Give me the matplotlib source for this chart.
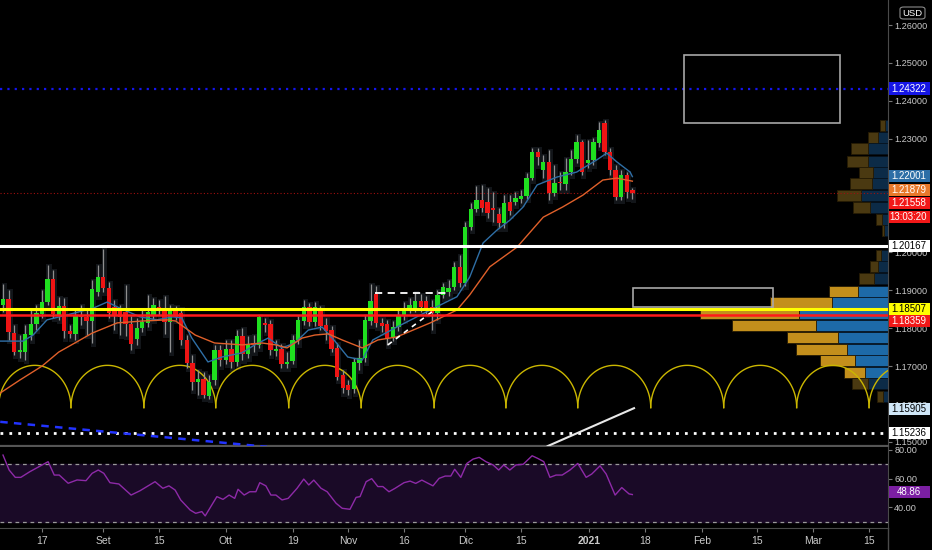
import numpy as np
import matplotlib
matplotlib.use("Agg")
import matplotlib.pyplot as plt
from matplotlib.patches import Rectangle, FancyBboxPatch
from matplotlib.lines import Line2D
from matplotlib import transforms
from matplotlib.ticker import FormatStrFormatter

plt.rcParams['font.family'] = ['Liberation Sans', 'DejaVu Sans']

# ---------------- data ----------------
first_index = -7
opens = [1.1861, 1.1877, 1.1787, 1.1737, 1.1737, 1.1782, 1.1811,
         1.1838, 1.1869, 1.1930, 1.1835, 1.1859, 1.1793, 1.1785, 1.1835, 1.1830, 1.1819,
         1.1896, 1.1935, 1.1906, 1.1856, 1.1845, 1.1843, 1.1811, 1.1772, 1.1801, 1.1814,
         1.1832, 1.1856, 1.1848, 1.1816, 1.1845, 1.1840, 1.1769, 1.1708, 1.1658, 1.1666,
         1.1621, 1.1663, 1.1743, 1.1716, 1.1745, 1.1711, 1.1780, 1.1732, 1.1761, 1.1756,
         1.1814, 1.1811, 1.1740, 1.1745, 1.1706, 1.1714, 1.1769, 1.1819, 1.1856, 1.1816,
         1.1848, 1.1809, 1.1795, 1.1748, 1.1677, 1.1650, 1.1640, 1.1708, 1.1721, 1.1819,
         1.1890, 1.1814, 1.1811, 1.1777, 1.1803, 1.1835, 1.1848, 1.1853, 1.1872, 1.1872,
         1.1856, 1.1840, 1.1888, 1.1896, 1.1909, 1.1962, 1.1919, 1.2067, 1.2115, 1.2138,
         1.2133, 1.2117, 1.2101, 1.2078, 1.2133, 1.2133, 1.2141, 1.2149, 1.2196, 1.2265,
         1.2218, 1.2239, 1.2157, 1.2186, 1.2180, 1.2212, 1.2247, 1.2291, 1.2236, 1.2244,
         1.2289, 1.2342, 1.2265, 1.2218, 1.2146, 1.2204, 1.2165]
highs = [1.1917, 1.1901, 1.1809, 1.1782, 1.1809, 1.1848, 1.1861,
         1.1901, 1.1967, 1.1954, 1.1882, 1.1880, 1.1809, 1.1848, 1.1861, 1.1848, 1.1927,
         1.1967, 1.2009, 1.1922, 1.1875, 1.1861, 1.1914, 1.1832, 1.1827, 1.1848, 1.1888,
         1.1880, 1.1875, 1.1885, 1.1861, 1.1859, 1.1853, 1.1782, 1.1729, 1.1690, 1.1685,
         1.1677, 1.1756, 1.1756, 1.1769, 1.1769, 1.1795, 1.1801, 1.1780, 1.1782, 1.1835,
         1.1827, 1.1822, 1.1769, 1.1758, 1.1737, 1.1782, 1.1832, 1.1875, 1.1866, 1.1869,
         1.1859, 1.1827, 1.1806, 1.1761, 1.1690, 1.1663, 1.1721, 1.1769, 1.1835, 1.1917,
         1.1911, 1.1827, 1.1822, 1.1819, 1.1848, 1.1869, 1.1880, 1.1896, 1.1890, 1.1885,
         1.1875, 1.1901, 1.1919, 1.1927, 1.1975, 1.1993, 1.2080, 1.2130, 1.2175, 1.2178,
         1.2170, 1.2159, 1.2117, 1.2151, 1.2151, 1.2159, 1.2165, 1.2210, 1.2276, 1.2276,
         1.2257, 1.2270, 1.2231, 1.2212, 1.2249, 1.2270, 1.2310, 1.2297, 1.2297, 1.2302,
         1.2344, 1.2349, 1.2276, 1.2231, 1.2218, 1.2212, 1.2170]
lows = [1.1843, 1.1769, 1.1729, 1.1721, 1.1716, 1.1769, 1.1795,
        1.1827, 1.1861, 1.1827, 1.1822, 1.1774, 1.1774, 1.1769, 1.1809, 1.1782, 1.1761,
        1.1885, 1.1896, 1.1827, 1.1795, 1.1782, 1.1780, 1.1743, 1.1756, 1.1790, 1.1803,
        1.1822, 1.1835, 1.1785, 1.1737, 1.1822, 1.1756, 1.1695, 1.1637, 1.1624, 1.1616,
        1.1613, 1.1650, 1.1700, 1.1706, 1.1695, 1.1700, 1.1716, 1.1721, 1.1737, 1.1748,
        1.1790, 1.1729, 1.1727, 1.1695, 1.1695, 1.1706, 1.1758, 1.1809, 1.1806, 1.1806,
        1.1795, 1.1769, 1.1737, 1.1663, 1.1629, 1.1624, 1.1629, 1.1690, 1.1711, 1.1809,
        1.1803, 1.1790, 1.1756, 1.1766, 1.1793, 1.1822, 1.1840, 1.1843, 1.1843, 1.1838,
        1.1795, 1.1822, 1.1880, 1.1885, 1.1901, 1.1909, 1.1911, 1.2059, 1.2107, 1.2107,
        1.2091, 1.2080, 1.2064, 1.2064, 1.2099, 1.2125, 1.2130, 1.2141, 1.2191, 1.2231,
        1.2196, 1.2138, 1.2149, 1.2165, 1.2165, 1.2204, 1.2236, 1.2204, 1.2223, 1.2231,
        1.2278, 1.2257, 1.2204, 1.2138, 1.2138, 1.2144, 1.2141]
closes = [1.1877, 1.1790, 1.1737, 1.1743, 1.1785, 1.1811, 1.1840,
          1.1869, 1.1930, 1.1838, 1.1859, 1.1793, 1.1785, 1.1832, 1.1830, 1.1819, 1.1904,
          1.1935, 1.1906, 1.1840, 1.1835, 1.1830, 1.1811, 1.1758, 1.1801, 1.1816, 1.1843,
          1.1861, 1.1848, 1.1816, 1.1848, 1.1830, 1.1769, 1.1708, 1.1658, 1.1666, 1.1624,
          1.1658, 1.1743, 1.1716, 1.1745, 1.1711, 1.1780, 1.1732, 1.1758, 1.1756, 1.1830,
          1.1809, 1.1743, 1.1745, 1.1706, 1.1711, 1.1769, 1.1822, 1.1856, 1.1816, 1.1856,
          1.1806, 1.1793, 1.1745, 1.1671, 1.1642, 1.1637, 1.1711, 1.1721, 1.1822, 1.1872,
          1.1814, 1.1806, 1.1774, 1.1803, 1.1835, 1.1853, 1.1861, 1.1872, 1.1856, 1.1853,
          1.1840, 1.1888, 1.1909, 1.1906, 1.1962, 1.1919, 1.2067, 1.2115, 1.2138, 1.2117,
          1.2104, 1.2112, 1.2078, 1.2130, 1.2109, 1.2144, 1.2149, 1.2196, 1.2265, 1.2252,
          1.2239, 1.2157, 1.2183, 1.2183, 1.2212, 1.2247, 1.2291, 1.2212, 1.2244, 1.2291,
          1.2323, 1.2265, 1.2218, 1.2146, 1.2204, 1.2159, 1.2156]

fast_ma_x = [-7.5, -6.3, -3.4, -1.6, 0.9, 4.5, 9.2, 11.7, 14.0, 17.6, 20.6, 23.5, 25.1, 26.9,
             29.8, 32.3, 35.9, 38.2, 40.6, 43.1, 45.4, 47.8, 50.3, 52.6, 54.9, 57.5, 59.4,
             63.7, 69.7, 74.5, 76.8, 79.2, 81.7, 84.0, 86.4, 88.9, 92.5, 96.0, 99.6, 101.4,
             103.2, 105.6, 106.0]
fast_ma = [1.1766, 1.1766, 1.1766, 1.1782, 1.1822, 1.1835, 1.1853, 1.1869, 1.1853, 1.1830,
           1.1822, 1.1830, 1.1827, 1.1774, 1.1711, 1.1724, 1.1735, 1.1756, 1.1774, 1.1748,
           1.1761, 1.1795, 1.1803, 1.1766, 1.1724, 1.1716, 1.1769, 1.1803, 1.1848, 1.1883,
           1.1935, 1.2025, 1.2059, 1.2085, 1.2120, 1.2178, 1.2199, 1.2212, 1.2244, 1.2262,
           1.2239, 1.2212, 1.2200]
slow_ma_x = [-7.5, -4.0, 0.0, 3.0, 6.5, 9.0, 13.5, 18.0, 22.5, 24.0, 27.5, 31.0, 36.0, 39.5,
             42.0, 44.0, 46.7, 49.0, 51.4, 53.9, 57.5, 60.3, 63.7, 69.7, 74.5, 76.8, 80.4,
             85.3, 90.0, 93.5, 97.1, 100.7, 103.2, 106.0]
slow_ma = [1.1629, 1.1663, 1.1700, 1.1737, 1.1766, 1.1787, 1.1814, 1.1819, 1.1822, 1.1819,
           1.1782, 1.1761, 1.1756, 1.1761, 1.1756, 1.1748, 1.1774, 1.1782, 1.1785, 1.1769,
           1.1748, 1.1769, 1.1777, 1.1814, 1.1848, 1.1888, 1.1962, 1.2014, 1.2093, 1.2120,
           1.2151, 1.2191, 1.2196, 1.2188]

rsi_x = [-7.0, -5.9, -4.8, -3.8, -2.2, 1.1, 2.2, 3.1, 4.7, 6.3, 7.9, 9.0, 10.1, 11.1, 12.2,
         13.8, 16.0, 17.6, 20.3, 21.7, 22.8, 23.9, 24.9, 26.6, 27.6, 28.7, 29.3, 30.3, 31.4,
         32.5, 33.6, 34.6, 35.2, 36.3, 37.3, 38.4, 39.1, 40.2, 41.1, 42.0, 43.1, 44.2, 45.8,
         47.0, 47.9, 48.8, 50.1, 51.2, 52.8, 53.9, 55.3, 56.4, 57.1, 58.2, 59.2, 60.3, 61.2,
         62.3, 63.4, 65.0, 66.1, 67.1, 68.2, 70.2, 71.3, 72.4, 73.4, 74.1, 75.2, 76.3, 77.4,
         78.5, 79.7, 81.0, 82.0, 82.9, 84.0, 85.1, 86.4, 88.0, 89.0, 90.1, 91.2, 92.3, 93.4,
         94.8, 96.2, 97.7, 98.7, 100.2, 101.3, 102.9, 104.1, 105.4, 106.0]
rsi = [76.3, 65.9, 60.8, 60.8, 64.7, 71.7, 62.4, 62.4, 56.7, 59.0, 58.5, 63.6, 65.9, 63.6,
       57.1, 56.2, 48.5, 51.5, 57.8, 53.2, 54.9, 52.0, 45.1, 38.1, 35.8, 37.0, 34.0, 40.4,
       47.4, 45.5, 48.5, 46.2, 52.5, 48.5, 50.8, 50.8, 57.1, 54.9, 48.5, 48.5, 45.1, 46.2,
       53.2, 59.6, 55.5, 58.9, 53.2, 50.8, 42.8, 39.3, 38.6, 46.9, 47.4, 57.8, 59.9, 54.4,
       54.4, 50.8, 53.2, 57.1, 58.2, 56.6, 58.9, 54.9, 60.1, 61.7, 61.7, 66.4, 60.8, 70.5,
       73.5, 74.7, 71.7, 69.4, 65.9, 69.4, 65.9, 69.4, 69.9, 75.8, 74.0, 71.7, 60.8, 62.4,
       62.4, 65.9, 70.5, 60.8, 63.1, 68.8, 63.1, 48.5, 53.7, 49.3, 48.86]

vp_price = [1.2334, 1.2303, 1.2273, 1.2241, 1.2211, 1.2181, 1.2149, 1.2119, 1.2088, 1.2057,
            1.1992, 1.1962, 1.1930, 1.1898, 1.1868, 1.1838, 1.1806, 1.1776, 1.1745, 1.1714,
            1.1683, 1.1653, 1.1621]
vp_up = [3, 10, 20, 20, 15, 16, 27, 18, 6, 4, 7, 10, 14, 30, 56, 89, 72, 50, 41, 33, 23, 20, 5]
vp_down = [5, 10, 17, 21, 14, 22, 24, 17, 6, 2, 5, 8, 15, 29, 62, 99, 84, 51, 51, 35, 21, 16, 6]
va_low, va_high = 1.1668, 1.1913

arc_cusps = [-7.8, 5.2, 18.3, 31.2, 44.3, 57.3, 70.4, 83.3, 96.2, 109.3, 122.4, 135.5, 148.5, 161.5]
arc_base, arc_top = 1.15905, 1.1702

level_blue = 1.24322
level_white = 1.20167
level_yellow = 1.18507
level_red = 1.18359
level_dotted = 1.15236
last_price = 1.21558

date_ticks = [0, 11, 21, 33, 45, 55, 65, 76, 86, 98.2, 108.3, 118.5, 128.4, 138.4, 148.5]
date_labels = ["17", "Set", "15", "Ott", "19", "Nov", "16", "Dic", "15", "2021", "18",
               "Feb", "15", "Mar", "15"]

# ---------------- figure ----------------
W, H = 932, 550
PR = 888
fig = plt.figure(figsize=(W / 100, H / 100), dpi=100, facecolor='black')
ax = fig.add_axes([0, 1 - 446 / H, PR / W, 446 / H], facecolor='black')
axr = fig.add_axes([0, 1 - 528 / H, PR / W, 81 / H], facecolor='black')

XL = (-7.54, 151.9)
ax.set_xlim(*XL)
ax.set_ylim(1.14892, 1.2666)
axr.set_xlim(*XL)
axr.set_ylim(25.6, 81.9)

grey = '#4a4a4a'
txtc = '#c9c9c9'
for a in (ax, axr):
    for s in ('left', 'top'):
        a.spines[s].set_visible(False)
    a.spines['right'].set_color(grey)
    a.spines['bottom'].set_color(grey)
ax.spines['bottom'].set_linewidth(1.6)
ax.spines['bottom'].set_color('#555555')

# volume profile (anchored to right edge)
tb = transforms.blended_transform_factory(ax.transAxes, ax.transData)
bh = 0.00292
for p, u, d in zip(vp_price, vp_up, vp_down):
    bright = va_low <= p <= va_high
    cu = '#1d6aa8' if bright else '#0c2b47'
    cd = '#c38f1c' if bright else '#4a3911'
    xb = 1 - u / PR
    xg = xb - d / PR
    ax.add_patch(Rectangle((xb, p - bh / 2), u / PR, bh, transform=tb, fc=cu,
                           ec='#06121d', lw=0.5, zorder=2))
    ax.add_patch(Rectangle((xg, p - bh / 2), d / PR, bh, transform=tb, fc=cd,
                           ec='#261b04', lw=0.6, zorder=2))

# arcs
for c0, c1 in zip(arc_cusps[:-1], arc_cusps[1:]):
    t = np.linspace(0, np.pi, 80)
    cx, rx = (c0 + c1) / 2, (c1 - c0) / 2
    ax.plot(cx + rx * np.cos(t), arc_base + (arc_top - arc_base) * np.sin(t),
            color='#cbb700', lw=1.0, zorder=3)

# candles
idx = np.arange(first_index, first_index + len(closes))
o, h, l, c = map(np.array, (opens, highs, lows, closes))
up = c >= o
# faint shadow columns behind the candles
ax.bar(idx + 0.25, h - l + 0.0012, bottom=l - 0.0010, width=0.95, color='#121519',
       linewidth=0, zorder=2.5)
ax.vlines(idx, l, h, color='#8f8f8f', lw=0.9, zorder=4)
ax.bar(idx, np.maximum(np.abs(c - o), 0.00018), bottom=np.minimum(o, c), width=0.78,
       color=np.where(up, '#1fe01f', '#ee1414'), linewidth=0, zorder=5)

# moving averages
ax.plot(fast_ma_x, fast_ma, color='#2f6fa6', lw=1.0, zorder=6)
ax.plot(slow_ma_x, slow_ma, color='#e0602a', lw=1.0, zorder=6)

# horizontal levels
ax.axhline(level_blue, color='#1414f0', lw=1.6, ls=(0, (1, 2.3)), zorder=6)
ax.axhline(level_white, color='white', lw=2.2, zorder=6)
ax.axhline(level_yellow, color='#ffff00', lw=2.2, zorder=7)
ax.axhline(level_red, color='#ff1a1a', lw=1.8, zorder=7)
ax.axhline(level_dotted, color='white', lw=2.0, ls=(0, (1, 2.2)), zorder=6)
ax.axhline(last_price, color='#a01010', lw=0.8, ls=(0, (1, 2)), zorder=3)

# drawings
ax.add_patch(Rectangle((115.3, 1.2342), 28.0, 0.0179, fill=False, ec='#a8a8a8', lw=1.2, zorder=6))
ax.add_patch(Rectangle((106.1, 1.1856), 25.1, 0.0050, fill=False, ec='#a8a8a8', lw=1.2, zorder=6))
ax.plot([90.8, 106.3], [1.1489, 1.1589], color='#e8e8e8', lw=1.5, zorder=6)
ax.plot([-7.5, 40.4], [1.1553, 1.1487], color='#2233ff', lw=1.8, ls=(0, (3, 2.5)), zorder=6)
ax.plot([59.8, 72.7], [1.1894, 1.1894], color='white', lw=1.3, ls=(0, (4, 3)), zorder=6)
ax.plot([62.1, 70.9], [1.1756, 1.1853], color='white', lw=1.2, ls=(0, (3, 3)), zorder=6)

# axes ticks
ax.set_xticks([])
ax.yaxis.tick_right()
ax.set_yticks(np.arange(1.15, 1.2601, 0.01))
ax.yaxis.set_major_formatter(FormatStrFormatter('%.5f'))
ax.tick_params(axis='y', labelcolor=txtc, color='#777777', length=3, pad=1.5, labelsize=6.6)

# RSI
axr.axhspan(30, 70, color='#1a0a27', zorder=1)
axr.axhline(70, color='#9a9a9a', lw=0.9, ls=(0, (3, 3)), zorder=2)
axr.axhline(30, color='#9a9a9a', lw=0.9, ls=(0, (3, 3)), zorder=2)
axr.plot(rsi_x, rsi, color='#8e2aa8', lw=1.0, zorder=3)
axr.yaxis.tick_right()
axr.set_yticks([40, 60, 80])
axr.yaxis.set_major_formatter(FormatStrFormatter('%.2f'))
axr.tick_params(axis='y', labelcolor=txtc, color='#777777', length=3, pad=1.5, labelsize=6.6)
axr.set_xticks(date_ticks)
axr.set_xticklabels(date_labels)
axr.tick_params(axis='x', labelcolor=txtc, color='#777777', length=3, pad=3, labelsize=7.5)
for lab in axr.get_xticklabels():
    if lab.get_text() == '2021':
        lab.set_fontweight('bold')

fig.add_artist(Line2D([PR / W, PR / W], [0, 22 / H], color=grey, lw=1.0))


# price labels on the scale
def plabel(axis, y, text, bg, fg, hh):
    t = transforms.blended_transform_factory(fig.transFigure, axis.transData)
    fig.add_artist(Rectangle((889 / W, y - hh / 2), 41 / W, hh, transform=t, fc=bg,
                             ec='none', zorder=10))
    fig.text(908.5 / W, y, text, transform=t, color=fg, fontsize=7.0, ha='center',
             va='center', zorder=11)


ph = 0.0033
plabel(ax, 1.24322, '1.24322', '#1515e6', 'white', ph)
plabel(ax, 1.2202, '1.22001', '#2d6ea6', 'white', ph)
plabel(ax, 1.2165, '1.21879', '#e8792b', 'white', ph)
plabel(ax, 1.2130, '1.21558', '#f21818', 'white', ph)
plabel(ax, 1.2093, '13:03:20', '#f21818', 'white', ph)
plabel(ax, 1.2017, '1.20167', 'white', 'black', ph)
plabel(ax, 1.1851, '1.18507', '#ffff00', 'black', ph)
plabel(ax, 1.1819, '1.18359', '#f21818', 'white', ph)
plabel(ax, 1.1587, '1.15905', '#cfe6f7', 'black', ph)
plabel(ax, 1.1524, '1.15236', 'white', 'black', ph)
plabel(axr, 50.6, '48.86', '#7b1fa2', 'white', 8.6)

# currency box
fig.add_artist(FancyBboxPatch((900 / W, 1 - 19 / H), 25 / W, 12 / H,
                              boxstyle='round,pad=0,rounding_size=0.004',
                              transform=fig.transFigure, fc='black', ec='#8a8a8a', lw=0.8))
fig.text(912.5 / W, 1 - 13 / H, 'USD', color='white', fontsize=6.8, ha='center', va='center')

fig.savefig('out.png', dpi=100, facecolor='black')
